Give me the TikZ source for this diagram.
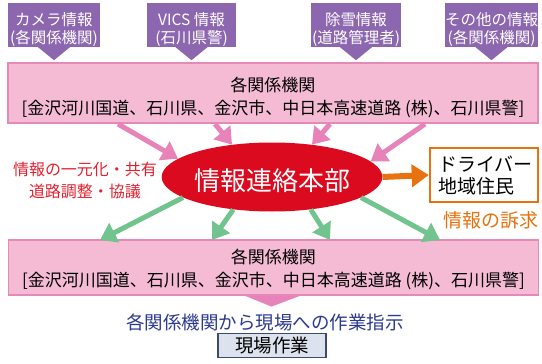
\documentclass[tikz,border=0pt]{standalone}
\usepackage{fontspec}
\setmainfont{Noto Sans CJK JP}
\usetikzlibrary{arrows.meta, calc, shapes.geometric}

\definecolor{infopurple}{HTML}{8C66AE}
\definecolor{orgpink}{HTML}{F5BBD5}
\definecolor{orgline}{HTML}{E58AB8}
\definecolor{arrpink}{HTML}{E883BA}
\definecolor{arrgreen}{HTML}{72C48E}
\definecolor{hqred}{HTML}{DC0A1E}
\definecolor{sharered}{HTML}{E5202E}
\definecolor{drvorange}{HTML}{E8720F}
\definecolor{instblue}{HTML}{2B3990}
\definecolor{sitefill}{HTML}{DCE3EE}
\definecolor{siteline}{HTML}{3C4A6B}

\begin{document}
\begin{tikzpicture}[x=1pt, y=-1pt,
  srcbox/.style={fill=infopurple, text=white, align=center, minimum height=44pt, inner sep=0pt, text height=37pt, text depth=0pt, font=\fontsize{15.5}{18}\selectfont},
  orgbox/.style={fill=orgpink, draw=orgline, line width=1.2pt, align=center, minimum width=530pt, inner sep=0pt, font=\fontsize{17}{23}\selectfont},
  inarrow/.style={arrpink, line width=5pt, -{Triangle[length=16pt,width=21pt]}},
  outarrow/.style={arrgreen, line width=5pt, -{Triangle[length=16pt,width=21pt]}}]

\useasboundingbox (0,0) rectangle (542,364);

%\draw[step=20, gray!30] (0,0) grid (542,364);

% information sources
\node[srcbox, minimum width=92pt] (cam) at (54,25) {カメラ情報\\(各関係機関)};
\node[srcbox, minimum width=89pt] (vics) at (191.5,25) {VICS 情報\\(石川県警)};
\node[srcbox, minimum width=90pt] (snow) at (356,25) {除雪情報\\(道路管理者)};
\node[srcbox, minimum width=93pt] (other) at (491.5,25) {その他の情報\\(各関係機関)};

\foreach \b in {cam, vics, snow, other}
	\fill[infopurple] ($(\b.south)+(-16,0)$) -- ($(\b.south)+(16,0)$) -- ($(\b.south)+(0,13)$) -- cycle;

\node[orgbox, minimum height=60pt, text height=42pt, text depth=0pt] (orgtop) at (273,93) {各関係機関\\{[}金沢河川国道、石川県、金沢市、中日本高速道路 (株)、石川県警]};

\node[ellipse, fill=hqred, text=white, minimum width=209pt, minimum height=69pt, inner sep=0pt, text height=26pt, text depth=0pt, font=\fontsize{26}{30}\selectfont] (hq) at (272,177) {情報連絡本部};

\node[text=sharered, align=center, font=\fontsize{16}{22}\selectfont] (share) at (85,180) {情報の一元化・共有\\道路調整・協議};

\node[draw=drvorange, line width=2.5pt, fill=white, align=left, text width=92pt, minimum height=54pt, inner xsep=8pt, font=\fontsize{19}{22}\selectfont] (driver) at (484,175) {ドライバー\\地域住民};
\node[text=drvorange, anchor=west, inner sep=0pt, font=\fontsize{19}{22}\selectfont] (appeal) at (443,220) {情報の訴求};

\node[orgbox, minimum height=55pt, text height=37pt, text depth=0pt] (orgbot) at (273.5,267.5) {各関係機関\\{[}金沢河川国道、石川県、金沢市、中日本高速道路 (株)、石川県警]};
\fill[arrpink] ($(orgbot.south)+(-29,0)$) -- ($(orgbot.south)+(27,0)$) -- ($(orgbot.south)+(-2,11)$) -- cycle;

\node[text=instblue, font=\fontsize{18.5}{22}\selectfont] (order) at (265,322) {各関係機関から現場への作業指示};
\node[draw=siteline, fill=sitefill, line width=1.2pt, minimum width=108pt, minimum height=24pt, inner sep=0pt, font=\fontsize{18.5}{22}\selectfont] (site) at (272,345.5) {現場作業};

% arrows
\coordinate (in1) at (118,124);
\coordinate (in2) at (215,124);
\coordinate (in3) at (330,124);
\coordinate (in4) at (425,124);
\coordinate (out1) at (100,240);
\coordinate (out2) at (212,240);
\coordinate (out3) at (330,240);
\coordinate (out4) at (440,240);

\draw[inarrow] (in1) -- (hq.169);
\draw[inarrow] (in2) -- (hq.141);
\draw[inarrow] (in3) -- (hq.39);
\draw[inarrow] (in4) -- (hq.9);

\draw[outarrow] (hq.193) -- (out1);
\draw[outarrow] (hq.220) -- (out2);
\draw[outarrow] (hq.320) -- (out3);
\draw[outarrow] (hq.347) -- (out4);

\draw[drvorange, line width=6pt, -{Triangle[length=17pt,width=22pt]}] (hq.east) -- (driver.west);

\end{tikzpicture}
\end{document}
